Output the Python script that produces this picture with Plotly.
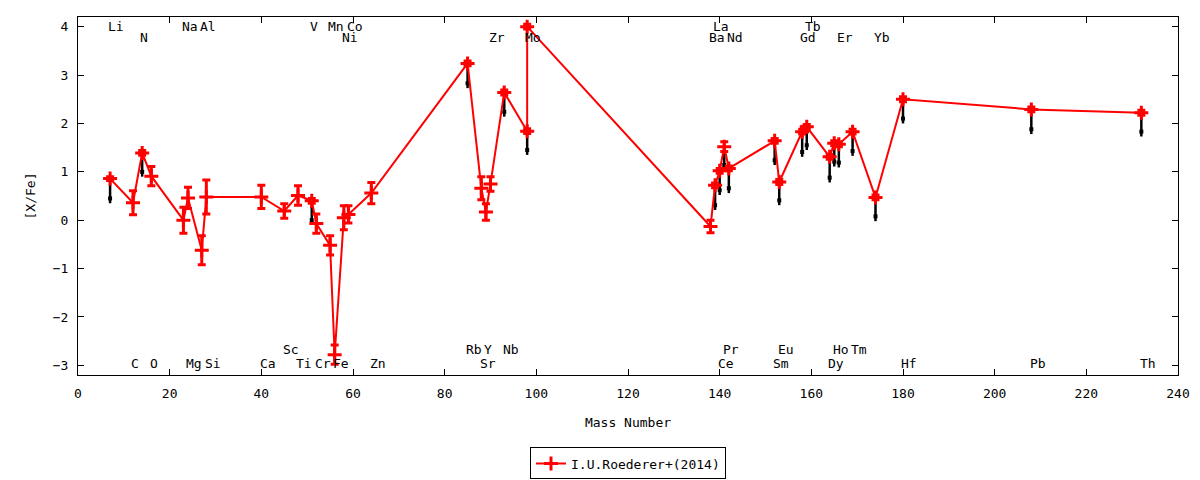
"""[X/Fe] vs mass number, I.U.Roederer+(2014) abundances, gnuplot-like look."""

import plotly.graph_objects as go

# ---- data --------------------------------------------------------------

MASS = [7, 12, 14, 16, 23, 24, 27, 28, 40, 45, 48, 51, 52, 55, 56, 58, 59, 64,
        85, 88, 89, 90, 93, 98, 98,
        138, 139, 140, 141, 142, 152, 153, 158, 159, 164, 165, 166, 169, 174, 180,
        208, 232]
XFE = [0.86, 0.36, 1.39, 0.91, 0.00, 0.46, -0.62, 0.48, 0.48, 0.19, 0.51, 0.40,
       -0.07, -0.52, -2.78, 0.05, 0.12, 0.56,
       3.24, 0.66, 0.17, 0.75, 2.64, 1.84, 4.00,
       -0.13, 0.72, 1.02, 1.52, 1.07, 1.64, 0.79, 1.83, 1.93, 1.31, 1.59, 1.57,
       1.83, 0.47, 2.50,
       2.29, 2.22]
ERR = [0.04, 0.25, 0.05, 0.20, 0.27, 0.22, 0.30, 0.35, 0.24, 0.15, 0.20, 0.05,
       0.20, 0.20, 0.20, 0.25, 0.18, 0.22,
       0.05, 0.24, 0.17, 0.15, 0.05, 0.05, 0.05,
       0.13, 0.05, 0.05, 0.10, 0.05, 0.05, 0.05, 0.05, 0.05, 0.05, 0.05, 0.05,
       0.05, 0.05, 0.05,
       0.05, 0.05]

# black drop lines: from the red value down to a lower value
DROP_MASS = [7, 14, 51, 85, 93, 98, 139, 140, 141, 142, 152, 153, 158, 159,
             164, 165, 166, 169, 174, 180, 208, 232]
DROP_FROM = [0.86, 1.39, 0.40, 3.24, 2.64, 1.84, 0.72, 1.02, 1.52, 1.07, 1.64,
             0.79, 1.83, 1.93, 1.31, 1.59, 1.57, 1.83, 0.47, 2.50, 2.29, 2.22]
DROP_TO = [0.45, 1.00, 0.00, 2.83, 2.24, 1.45, 0.31, 0.62, 1.14, 0.66, 1.24,
           0.41, 1.41, 1.55, 0.88, 1.21, 1.19, 1.43, 0.08, 2.10, 1.88, 1.83]

# element names, in four rows
LABELS_TOP = ["Li", "Na", "Al", "V", "Mn", "Co", "La", "Tb"]
LABELS_TOP_MASS = [7, 23, 27, 51, 55, 59, 139, 159]
LABELS_ROW2 = ["N", "Ni", "Zr", "Mo", "Ba", "Nd", "Gd", "Er", "Yb"]
LABELS_ROW2_MASS = [14, 58, 90, 98, 138, 142, 158, 166, 174]
LABELS_ROW3 = ["Sc", "Rb", "Y", "Nb", "Pr", "Eu", "Ho", "Tm"]
LABELS_ROW3_MASS = [45, 85, 89, 93, 141, 153, 165, 169]
LABELS_BOT = ["C", "O", "Mg", "Si", "Ca", "Ti", "Cr", "Fe", "Zn", "Sr", "Ce",
              "Sm", "Dy", "Hf", "Pb", "Th"]
LABELS_BOT_MASS = [12, 16, 24, 28, 40, 48, 52, 56, 64, 88, 140, 152, 164, 180,
                   208, 232]
ROW_Y = [4.0, 3.77, -2.67, -2.96]

X_TICKS = list(range(0, 241, 20))
Y_TICKS = list(range(-3, 5))

FONT = "DejaVu Sans Mono"

# ---- plot --------------------------------------------------------------

fig = go.Figure()

fig.add_trace(go.Scatter(
    x=DROP_MASS, y=DROP_TO, mode="markers",
    marker=dict(symbol="square", size=4, color="black"),
    error_y=dict(type="data", symmetric=False,
                 array=[f - t for f, t in zip(DROP_FROM, DROP_TO)],
                 arrayminus=[0.1] * len(DROP_TO),
                 color="black", thickness=2.5, width=0),
    showlegend=False, hoverinfo="skip",
))

fig.add_trace(go.Scatter(
    x=MASS, y=XFE, mode="lines+markers",
    name="I.U.Roederer+(2014)",
    line=dict(color="#ff0000", width=2),
    marker=dict(symbol="cross-thin", size=10, color="#ff0000",
                line=dict(width=3, color="#ff0000")),
    error_y=dict(type="data", array=ERR, color="#ff0000", thickness=3, width=4),
))

rows = [(LABELS_TOP, LABELS_TOP_MASS), (LABELS_ROW2, LABELS_ROW2_MASS),
        (LABELS_ROW3, LABELS_ROW3_MASS), (LABELS_BOT, LABELS_BOT_MASS)]
for (names, masses), yy in zip(rows, ROW_Y):
    for name, m in zip(names, masses):
        fig.add_annotation(x=m - 0.6, y=yy, text=name, showarrow=False,
                           xanchor="left", yanchor="middle", borderpad=0,
                           font=dict(family=FONT, size=13, color="black"))

axis_common = dict(
    showline=True, linecolor="black", linewidth=1, mirror="ticks",
    ticks="inside", ticklen=6, tickcolor="black", showgrid=False, zeroline=False,
    automargin=False,
    tickfont=dict(family=FONT, size=13, color="black"),
)
fig.update_xaxes(range=[0, 240], tickvals=X_TICKS, ticklabelstandoff=6,
                 title=dict(text="Mass Number", standoff=18,
                            font=dict(family=FONT, size=13, color="black")),
                 **axis_common)
fig.update_yaxes(range=[-3.2, 4.2], tickvals=Y_TICKS, ticklabelstandoff=6,
                 title=dict(text="[X/Fe]", standoff=14,
                            font=dict(family=FONT, size=13, color="black")),
                 **axis_common)

# the page puts the figure 8 px in from the top-left corner
fig.update_layout(
    width=1192, height=472,
    margin=dict(l=70, r=22, t=9, b=105),
    plot_bgcolor="white", paper_bgcolor="white",
    font=dict(family=FONT, size=13, color="black"),
    legend=dict(x=0.5, y=0.035, xanchor="center", yanchor="middle",
                yref="container",
                bordercolor="black", borderwidth=1, bgcolor="white",
                font=dict(family=FONT, size=13, color="black")),
)

fig.write_html("out.html")
